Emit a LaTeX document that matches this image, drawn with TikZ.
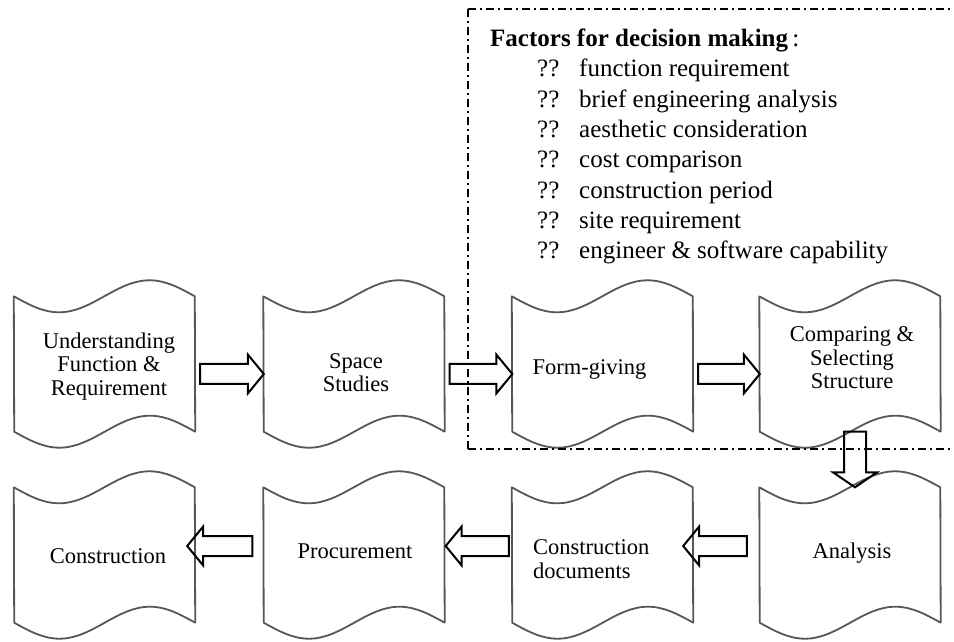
\documentclass[tikz,border=0pt]{standalone}
\usepackage{fontspec}
\setmainfont{Liberation Serif}
\usetikzlibrary{calc}
\definecolor{tapegray}{RGB}{92,86,80}
\tikzset{
  tapebox/.style={rectangle, minimum width=181pt, minimum height=135pt, inner sep=0pt},
  tapeline/.style={draw=tapegray, line width=1.8pt, line join=round},
  blockarrow/.style={draw=black, line width=2pt, line join=miter},
  boxtext/.style={font=\fontsize{22.5}{23.5}\selectfont, align=center, inner sep=0pt},
  listtext/.style={font=\fontsize{25}{30}\selectfont, inner sep=0pt, anchor=base west},
  decisionframe/.style={draw=black, line width=2pt, dash pattern=on 8pt off 4pt on 2pt off 4pt}
}
\newcommand\tapeoutline[1]{%
  \draw[tapeline] (#1.north west) sin ++(45.25,-16) cos ++(45.25,16) sin ++(45.25,16) cos ++(45.25,-16)
    -- (#1.south east) sin ++(-45.25,16) cos ++(-45.25,-16) sin ++(-45.25,-16) cos ++(-45.25,16) -- cycle;}
% right-pointing block arrow: from node, to node, y, start shift, tip shift
\newcommand\blockright[5]{%
  \draw[blockarrow] let \p1=(#1.east), \p2=(#2.west) in
    (\x1#4,#3pt+10pt) -- (\x2#5-16pt,#3pt+10pt) -- (\x2#5-16pt,#3pt+19.5pt) -- (\x2#5,#3pt)
    -- (\x2#5-16pt,#3pt-19.5pt) -- (\x2#5-16pt,#3pt-10pt) -- (\x1#4,#3pt-10pt) -- cycle;}
% left-pointing block arrow: from node (right), to node (left), y, start shift, tip shift
\newcommand\blockleft[5]{%
  \draw[blockarrow] let \p1=(#1.west), \p2=(#2.east) in
    (\x1#4,#3pt+10pt) -- (\x2#5+16pt,#3pt+10pt) -- (\x2#5+16pt,#3pt+19.5pt) -- (\x2#5,#3pt)
    -- (\x2#5+16pt,#3pt-19.5pt) -- (\x2#5+16pt,#3pt-10pt) -- (\x1#4,#3pt-10pt) -- cycle;}
\begin{document}
\begin{tikzpicture}[x=1pt,y=1pt]
\useasboundingbox (0,0) rectangle (954,641);
% boxes
\node[tapebox] (b1) at (104.5,277) {};
\node[tapebox] (b2) at (354,277) {};
\node[tapebox] (b3) at (602.5,277) {};
\node[tapebox] (b4) at (850,277) {};
\node[tapebox] (b5) at (850,86) {};
\node[tapebox] (b6) at (602.5,86) {};
\node[tapebox] (b7) at (354,86) {};
\node[tapebox] (b8) at (104.5,86) {};
\foreach \n in {b1,b2,b3,b4,b5,b6,b7,b8} {\tapeoutline{\n}}
% texts
\node[boxtext] (t1) at (109,274.6) {Understanding\\Function \&\\Requirement};
\node[boxtext] (t2) at (356,268.5) {Space\\Studies};
\node[boxtext, anchor=base] (t3) at (589.5,266) {Form-giving};
\node[boxtext] (t4) at (852,283) {Comparing \&\\Selecting\\Structure};
\node[boxtext, anchor=base] (t5) at (852,83) {Analysis};
\node[boxtext, align=left, anchor=west] (t6) at (533,82) {Construction\\documents};
\node[boxtext, anchor=base] (t7) at (355,83) {Procurement};
\node[boxtext, anchor=base] (t8) at (108,78) {Construction};
% arrows
\blockright{b1}{b2}{267}{+5pt}{+0.5pt}
\blockright{b2}{b3}{267}{+5pt}{+0.5pt}
\blockright{b3}{b4}{267}{+5pt}{+0.5pt}
\draw[blockarrow] let \p1=(b4.south), \p2=(b5.north) in
  (\x1-6pt,\y1) -- (\x1+16pt,\y1) -- (\x1+16pt,\y2+15pt) -- (\x1+27pt,\y2+15pt) -- (\x1+5pt,\y2)
  -- (\x1-17pt,\y2+15pt) -- (\x1-6pt,\y2+15pt) -- cycle;
\blockleft{b5}{b6}{95}{-12.5pt}{-10pt}
\blockleft{b6}{b7}{95}{-3pt}{+1pt}
\blockleft{b7}{b8}{95}{-11pt}{-8pt}
% decision frame (open on the right: it runs off the picture)
\draw[decisionframe] (468,632) -- (953,632);
\draw[decisionframe] (468,632) -- (468,192);
\draw[decisionframe] (468,192) -- (953,192);
\node[listtext] (head) at (490,594) {\textbf{Factors for decision making}\,:};
\foreach \t [count=\i] in {function requirement, brief engineering analysis, aesthetic consideration, cost comparison, construction period, site requirement, engineer \& software capability} {
  \node[listtext] (i\i) at (537,{564-30.3*(\i-1)}) {\makebox[42pt][l]{??}\t};
}
\end{tikzpicture}
\end{document}
